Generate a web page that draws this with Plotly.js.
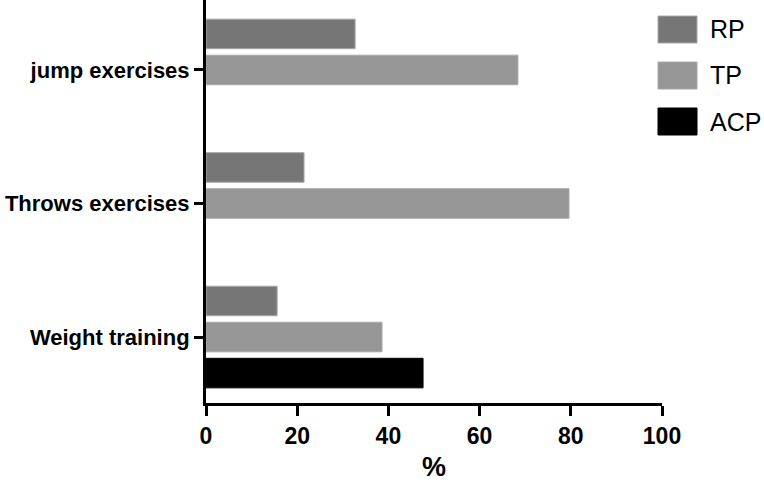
<!DOCTYPE html>
<html>
<head>
<meta charset="utf-8">
<script src="https://cdn.plot.ly/plotly-3.0.1.min.js"></script>
<style>html,body{margin:0;padding:0;background:#fff;}#chart{width:764px;height:493px;}</style>
</head>
<body>
<div id="chart"></div>
<script>
const categories = ['jump exercises', 'Throws exercises', 'Weight training'];
const seriesNames = ['RP', 'TP', 'ACP'];
const rpValues = [32.7, 21.5, 15.6];
const tpValues = [68.4, 79.6, 38.6];
const acpValues = [null, null, 47.6];
const seriesColors = ['#767676', '#969696', '#000000'];
const xTicks = [0, 20, 40, 60, 80, 100];

const FONT = '"Liberation Sans", Arial, Helvetica, sans-serif';
const W = 764, H = 493, ML = 206, MR = 102, MT = 0, MB = 90;
const PW = W - ML - MR, PH = H - MT - MB;

const values = [rpValues, tpValues, acpValues];
const traces = seriesNames.map((name, i) => ({
  type: 'bar',
  orientation: 'h',
  name: name,
  y: categories,
  x: values[i],
  marker: {color: seriesColors[i], line: {color: i === 2 ? '#000' : '#a8a8a8', width: 1}},
  showlegend: false,
  hoverinfo: 'x+name'
}));

// custom legend (large swatches like the reference)
const shapes = [], annotations = [];
const px2x = p => (p - ML) / PW;
const py2y = p => 1 - (p - MT) / PH;
seriesNames.forEach((name, i) => {
  const top = 16 + i * 46, bot = top + 27;
  shapes.push({type: 'rect', xref: 'paper', yref: 'paper',
    x0: px2x(658), x1: px2x(697), y0: py2y(bot), y1: py2y(top),
    fillcolor: seriesColors[i], line: {color: i === 2 ? '#000' : '#a8a8a8', width: 1}});
  annotations.push({xref: 'paper', yref: 'paper', x: px2x(708), y: py2y((top + bot) / 2),
    xanchor: 'left', yanchor: 'middle', showarrow: false, text: name,
    font: {family: FONT, size: 25, color: '#000'}});
});

const layout = {
  width: W, height: H,
  margin: {l: ML, r: MR, t: MT, b: MB, pad: 0},
  paper_bgcolor: '#fff', plot_bgcolor: '#fff',
  barmode: 'group', bargap: 0.19, bargroupgap: 0.18,
  showlegend: false,
  font: {family: FONT, color: '#000'},
  xaxis: {
    range: [0, 100], tickvals: xTicks, ticktext: xTicks.map(String),
    showgrid: false, zeroline: false, showline: true, linecolor: '#000', linewidth: 3,
    ticks: 'outside', ticklen: 10, tickwidth: 3, tickcolor: '#000',
    tickfont: {family: FONT, size: 23, weight: 'bold', color: '#000'},
    title: {text: '%', font: {family: FONT, size: 27, weight: 'bold', color: '#000'}, standoff: 10}
  },
  yaxis: {
    type: 'category', categoryorder: 'array', categoryarray: categories,
    range: [2.494, -0.524],
    showgrid: false, zeroline: false, showline: true, linecolor: '#000', linewidth: 3,
    ticks: 'outside', ticklen: 9, tickwidth: 3, tickcolor: '#000',
    tickfont: {family: FONT, size: 22, weight: 'bold', color: '#000'}
  },
  shapes: shapes,
  annotations: annotations
};

Plotly.newPlot('chart', traces, layout, {displayModeBar: false, staticPlot: true});
</script>
</body>
</html>
